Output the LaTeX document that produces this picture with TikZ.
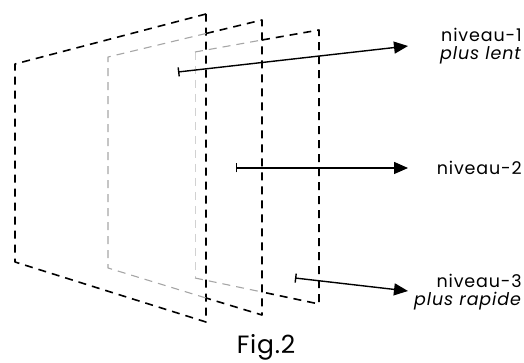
\documentclass[tikz,border=0pt]{standalone}
\usepackage{fontspec}
\setmainfont{Poppins}
\newfontfamily\lblfont[LetterSpace=5]{Poppins}
\newfontfamily\figfont[LetterSpace=3]{Poppins}
\usetikzlibrary{arrows.meta}
\begin{document}
\begin{tikzpicture}[x=1pt, y=-1pt, line join=round, >={Triangle[length=14pt,width=12pt]},
  edge/.style={dash pattern=on 8pt off 6pt, line width=1.6pt},
  faded/.style={dash pattern=on 8pt off 6pt, line width=1.1pt, black!35},
  hidden/.style={dash pattern=on 8pt off 6pt, line width=1pt, black!18},
  lbl/.style={font=\lblfont\fontsize{17.5}{18}\selectfont, align=right, anchor=east, inner sep=0pt}]
\useasboundingbox (0,0) rectangle (524,363);
% plan 1 (devant)
\draw[edge] (206,14) -- (15,64) -- (15,262) -- (206,322) -- cycle;
% plan 2
\draw[faded] (206,33.5) -- (108,57) -- (108,268) -- (206,298);
\draw[edge] (206,33.5) -- (262,20) -- (262,315) -- (206,298);
% plan 3
\draw[hidden] (195,52) -- (195,278);
\draw[faded] (195,52) -- (262,40) (195,278) -- (262,292);
\draw[edge] (262,40) -- (319,30) -- (319,304) -- (262,292);
% etiquettes
\node[lbl] (n1) at (522,46) {niveau-1\\\textit{plus lent}};
\node[lbl] (n2) at (522,168) {niveau-2};
\node[lbl] (n3) at (522,292) {niveau-3\\\textit{plus rapide}};
\node[font=\figfont\fontsize{25}{27}\selectfont, inner sep=0pt] (fig) at (266,347) {Fig.2};
% fleches
\coordinate (s1) at (178,72);  \coordinate (e1) at (408,46);
\coordinate (s2) at (236,168); \coordinate (e2) at (408,168);
\coordinate (s3) at (295,278); \coordinate (e3) at (408,291);
\foreach \i in {1,2,3}
  \draw[{Bar[width=9pt]}->, line width=1.4pt] (s\i) -- (e\i);
\end{tikzpicture}
\end{document}
